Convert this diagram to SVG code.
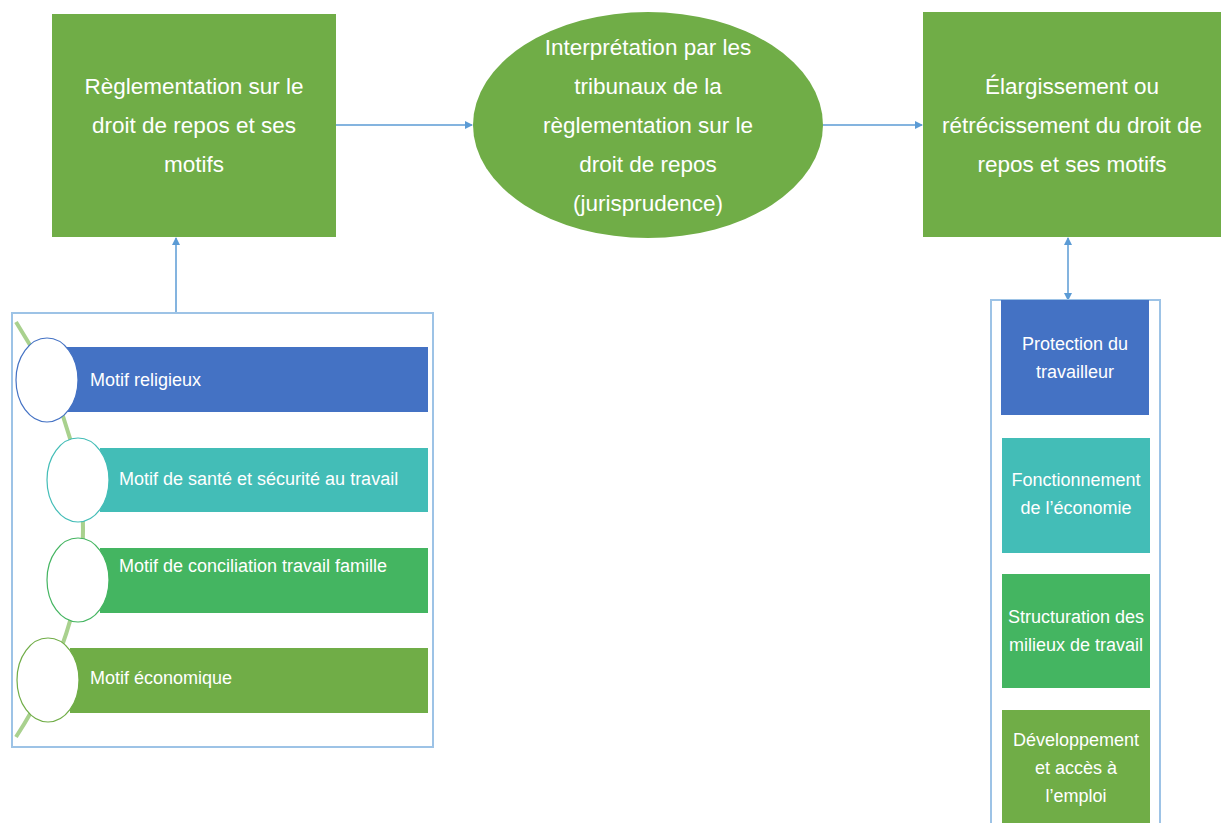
<svg xmlns="http://www.w3.org/2000/svg" width="1221" height="823" viewBox="0 0 1221 823">
<defs>
<marker id="ah" markerWidth="8" markerHeight="8" refX="7" refY="4" orient="auto" markerUnits="userSpaceOnUse"><path d="M0,0 L8,4 L0,8 z" fill="#5B9BD5"/></marker>
<marker id="ahs" markerWidth="8" markerHeight="8" refX="1" refY="4" orient="auto" markerUnits="userSpaceOnUse"><path d="M8,0 L0,4 L8,8 z" fill="#5B9BD5"/></marker>
<style>
.big{font-family:"Liberation Sans",Arial,sans-serif;font-size:22.5px;fill:#fff;text-anchor:middle}
.sm{font-family:"Liberation Sans",Arial,sans-serif;font-size:18px;fill:#fff}
.smc{font-family:"Liberation Sans",Arial,sans-serif;font-size:18px;fill:#fff;text-anchor:middle}
.con{stroke:#5B9BD5;stroke-width:1.5;fill:none}
.frame{fill:none;stroke:#9DC3E6;stroke-width:2}
.circ{fill:#fff;stroke-width:1.2}
</style>
</defs>
<rect width="1221" height="823" fill="#fff"/>
<g id="connectors">
<line class="con" x1="336" y1="125" x2="472" y2="125" marker-end="url(#ah)"/>
<line class="con" x1="823" y1="125" x2="922" y2="125" stroke-width="2.5" marker-end="url(#ah)"/>
<line class="con" x1="176" y1="313" x2="176" y2="238" marker-end="url(#ah)"/>
<line class="con" x1="1068" y1="238" x2="1068" y2="300" marker-start="url(#ahs)" marker-end="url(#ah)"/>
</g>
<g id="node-reglementation">
<rect x="52" y="14" width="284" height="223" fill="#70AD47"/>
<text class="big" x="194" y="94">Règlementation sur le</text>
<text class="big" x="194" y="133">droit de repos et ses</text>
<text class="big" x="194" y="172">motifs</text>
</g>
<g id="node-interpretation">
<ellipse cx="648" cy="125" rx="175" ry="113" fill="#70AD47"/>
<text class="big" x="648" y="55">Interprétation par les</text>
<text class="big" x="648" y="94">tribunaux de la</text>
<text class="big" x="648" y="133">règlementation sur le</text>
<text class="big" x="648" y="172">droit de repos</text>
<text class="big" x="648" y="211">(jurisprudence)</text>
</g>
<g id="node-elargissement">
<rect x="923" y="12" width="298" height="225" fill="#70AD47"/>
<text class="big" x="1072" y="94">Élargissement ou</text>
<text class="big" x="1072" y="133">rétrécissement du droit de</text>
<text class="big" x="1072" y="172">repos et ses motifs</text>
</g>
<g id="node-motifs">
<rect class="frame" x="12" y="313" width="421" height="434"/>
<path d="M16,322 Q150,530 16,737" fill="none" stroke="#A9D18E" stroke-width="4"/>
<rect x="48" y="347" width="380" height="65" fill="#4472C4"/>
<rect x="100" y="448" width="328" height="64" fill="#43BDB7"/>
<rect x="100" y="548" width="328" height="65" fill="#44B561"/>
<rect x="70" y="648" width="358" height="65" fill="#70AD47"/>
<ellipse class="circ" cx="47" cy="380" rx="31" ry="42" stroke="#4472C4"/>
<ellipse class="circ" cx="78" cy="480" rx="31" ry="42" stroke="#43BDB7"/>
<ellipse class="circ" cx="78" cy="580" rx="31" ry="42" stroke="#44B561"/>
<ellipse class="circ" cx="48" cy="680" rx="31" ry="42" stroke="#70AD47"/>
<text class="sm" x="90" y="386">Motif religieux</text>
<text class="sm" x="119" y="485">Motif de santé et sécurité au travail</text>
<text class="sm" x="119" y="572">Motif de conciliation travail famille</text>
<text class="sm" x="90" y="684">Motif économique</text>
</g>
<g id="node-fonctions">
<rect class="frame" x="991" y="300" width="169" height="530"/>
<rect x="1001" y="300" width="148" height="115" fill="#4472C4"/>
<text class="smc" x="1075" y="350">Protection du</text>
<text class="smc" x="1075" y="378">travailleur</text>
<rect x="1002" y="438" width="148" height="115" fill="#43BDB7"/>
<text class="smc" x="1076" y="486">Fonctionnement</text>
<text class="smc" x="1076" y="514">de l’économie</text>
<rect x="1002" y="574" width="148" height="114" fill="#44B561"/>
<text class="smc" x="1076" y="623">Structuration des</text>
<text class="smc" x="1076" y="651">milieux de travail</text>
<rect x="1002" y="710" width="148" height="120" fill="#70AD47"/>
<text class="smc" x="1076" y="746">Développement</text>
<text class="smc" x="1076" y="774">et accès à</text>
<text class="smc" x="1076" y="802">l’emploi</text>
</g>
</svg>
